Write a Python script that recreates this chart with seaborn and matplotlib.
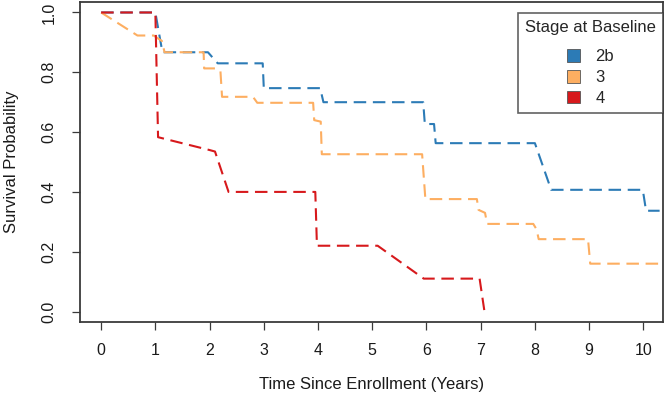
import matplotlib
matplotlib.use("Agg")
import matplotlib.pyplot as plt
from matplotlib.patches import Patch
import pandas as pd
import seaborn as sns

# Survival curves (time in years, survival probability)
stages = ["2b", "3", "4"]
colors = ["#2c7bb6", "#fdae61", "#d7191c"]

time_2b = [0, 1.0, 1.13, 1.97, 2.15, 2.98, 3.0, 4.04, 4.1, 5.94, 5.97, 6.14, 6.17,
           8.0, 8.3, 9.99, 10.05, 10.3]
surv_2b = [1.0, 1.0, 0.867, 0.867, 0.83, 0.83, 0.747, 0.747, 0.70, 0.70, 0.627, 0.627, 0.563,
           0.563, 0.407, 0.407, 0.337, 0.337]

time_3 = [0, 0.67, 0.97, 1.05, 1.12, 1.17, 1.89, 1.9, 2.1, 2.2, 2.23, 2.8, 2.88, 3.91,
          3.93, 4.05, 4.07, 5.92, 5.98, 6.93, 6.96, 7.08, 7.12, 7.97, 8.03, 8.07, 8.98,
          9.02, 10.3]
surv_3 = [1.0, 0.923, 0.923, 0.913, 0.905, 0.867, 0.867, 0.813, 0.813, 0.805, 0.718, 0.718,
          0.698, 0.698, 0.64, 0.635, 0.526, 0.526, 0.376, 0.376, 0.34, 0.33, 0.293, 0.293,
          0.275, 0.242, 0.242, 0.16, 0.16]

time_4 = [0, 1.0, 1.05, 2.0, 2.1, 2.35, 3.95, 3.98, 5.1, 5.95, 6.98, 7.07]
surv_4 = [1.0, 1.0, 0.583, 0.54, 0.535, 0.40, 0.40, 0.22, 0.22, 0.11, 0.11, 0.0]

x_ticks = list(range(0, 11))
y_ticks = [0.0, 0.2, 0.4, 0.6, 0.8, 1.0]

df = pd.concat([
    pd.DataFrame({"time": time_2b, "surv": surv_2b, "stage": "2b"}),
    pd.DataFrame({"time": time_3, "surv": surv_3, "stage": "3"}),
    pd.DataFrame({"time": time_4, "surv": surv_4, "stage": "4"}),
], ignore_index=True)

sns.set_theme(style="white")
plt.rcParams["font.family"] = ["Liberation Sans", "DejaVu Sans"]
frame_col = "#3a3a3a"

fig = plt.figure(figsize=(6.66, 4.04), dpi=100)
ax = fig.add_axes([0.1201, 0.203, 0.876, 0.792])

palette = dict(zip(stages, colors))
sns.lineplot(
    data=df, x="time", y="surv", hue="stage", hue_order=stages, palette=palette,
    style="stage", dashes={s: (6, 3.2) for s in stages},
    estimator=None, sort=False, linewidth=1.5, legend=False, ax=ax,
)

ax.set_xlim(-0.39, 10.37)
ax.set_ylim(-0.035, 1.035)
ax.set_xticks(x_ticks)
ax.set_xticklabels([str(t) for t in x_ticks])
ax.set_yticks(y_ticks)
ax.set_yticklabels([f"{v:.1f}" for v in y_ticks], rotation=90, va="center")

ax.tick_params(axis="both", direction="out", length=6, width=0.9, color=frame_col,
               labelsize=11.5, labelcolor="#1a1a1a")
ax.tick_params(axis="x", pad=9, bottom=True)
ax.tick_params(axis="y", pad=11, left=True)

for sp in ax.spines.values():
    sp.set_visible(True)
    sp.set_color(frame_col)
    sp.set_linewidth(1.3)

ax.set_xlabel("Time Since Enrollment (Years)", fontsize=12, color="#1a1a1a")
ax.set_ylabel("Survival Probability", fontsize=12, color="#1a1a1a")
ax.xaxis.set_label_coords(0.5, -0.172)
ax.yaxis.set_label_coords(-0.104, 0.5)

handles = [Patch(facecolor=c, edgecolor="#555555", linewidth=0.6) for c in colors]
leg = ax.legend(
    handles, stages, title="Stage at Baseline", loc="upper right",
    bbox_to_anchor=(1.0, 0.966), borderaxespad=0, frameon=True, fancybox=False,
    fontsize=12, title_fontsize=12, handlelength=0.8, handleheight=0.8,
    handletextpad=0.9, labelspacing=0.33, borderpad=0.45,
)
# a little more room between the title and the entries
leg._legend_box.sep = 10
leg.get_frame().set_edgecolor(frame_col)
leg.get_frame().set_linewidth(1.2)

fig.savefig("out.png", dpi=100)
plt.close(fig)
